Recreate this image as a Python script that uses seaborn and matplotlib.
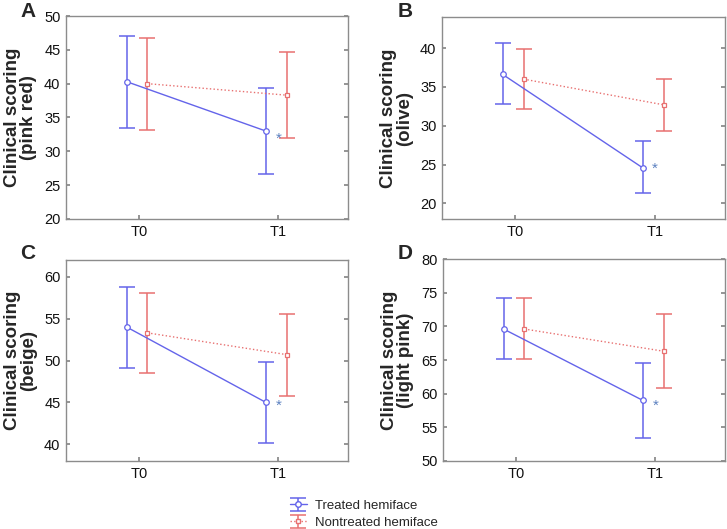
import matplotlib
matplotlib.use("Agg")
import matplotlib.pyplot as plt
from matplotlib.lines import Line2D
from matplotlib.legend_handler import HandlerTuple
import seaborn as sns
import pandas as pd
import numpy as np

# panel letters / y labels
panels = ["A", "B", "C", "D"]
ylabels = ["Clinical scoring\n(pink red)", "Clinical scoring\n(olive)",
           "Clinical scoring\n(beige)", "Clinical scoring\n(light pink)"]
ylims = [(20, 50), (18, 44), (38, 62), (50, 80)]
yticks = [range(20, 51, 5), range(20, 41, 5), range(40, 61, 5), range(50, 81, 5)]
times = ["T0", "T1"]

# means and error bar limits: [T0, T1]
treated_mean = [[40.3, 33.0], [36.6, 24.6], [54.0, 45.0], [69.6, 59.0]]
treated_lo = [[33.5, 26.6], [32.8, 21.4], [49.1, 40.2], [65.1, 53.4]]
treated_hi = [[47.1, 39.4], [40.6, 28.0], [58.8, 49.8], [74.2, 64.6]]
nontreated_mean = [[40.0, 38.3], [36.0, 32.7], [53.3, 50.7], [69.6, 66.3]]
nontreated_lo = [[33.2, 32.0], [32.1, 29.3], [48.5, 45.8], [65.1, 60.8]]
nontreated_hi = [[46.8, 44.7], [39.9, 36.0], [58.1, 55.5], [74.2, 71.9]]
star_y = [31.8, 24.5, 44.6, 58.2]

blue = "#6464ea"
red = "#e87070"
star_col = "#5b80c0"

sns.set_theme(style="white")
plt.rcParams["font.family"] = ["Liberation Sans", "DejaVu Sans"]

fig = plt.figure(figsize=(7.27, 5.29), dpi=100)
W, H = 727, 529
boxes = [(66, 16, 348, 219), (442, 17, 725, 219), (66, 260, 348, 461), (443, 259, 725, 461)]
letter_xy = [(20, 2), (398, 2), (20, 244), (398, 244)]

for i in range(4):
    l, t, r, b = boxes[i]
    ax = fig.add_axes([l / W, 1 - b / H, (r - l) / W, (b - t) / H])
    df = pd.DataFrame({
        "x": [0, 1, 0, 1],
        "mean": treated_mean[i] + nontreated_mean[i],
        "lo": treated_lo[i] + nontreated_lo[i],
        "hi": treated_hi[i] + nontreated_hi[i],
        "group": ["Treated hemiface"] * 2 + ["Nontreated hemiface"] * 2,
    })
    df["xpos"] = df["x"] + np.where(df["group"] == "Treated hemiface", -0.09, 0.06)

    tr = df[df.group == "Treated hemiface"]
    nt = df[df.group == "Nontreated hemiface"]
    eb_t = ax.errorbar(tr.xpos, tr["mean"], yerr=[tr["mean"] - tr.lo, tr.hi - tr["mean"]],
                       fmt="none", ecolor=blue, elinewidth=1.1, capsize=6, capthick=1.1)
    eb_n = ax.errorbar(nt.xpos, nt["mean"], yerr=[nt["mean"] - nt.lo, nt.hi - nt["mean"]],
                       fmt="none", ecolor=red, elinewidth=1.1, capsize=6, capthick=1.1)
    sns.lineplot(data=tr, x="xpos", y="mean", ax=ax, color=blue, lw=1.0,
                 marker="o", markersize=4, markerfacecolor="white",
                 markeredgecolor=blue, markeredgewidth=0.9)
    sns.lineplot(data=nt, x="xpos", y="mean", ax=ax, color=red, lw=1.0, linestyle=":",
                 marker="s", markersize=3.5, markerfacecolor="white",
                 markeredgecolor=red, markeredgewidth=0.9)
    ax.text(1.0, star_y[i], "*", color=star_col, fontsize=11, ha="center", va="center")

    ax.set_xlim(-0.525, 1.5)
    ax.set_ylim(*ylims[i])
    ax.set_xticks([0, 1])
    ax.set_xticklabels(times)
    ax.set_yticks(list(yticks[i]))
    ax.set_xlabel("")
    ax.set_ylabel(ylabels[i], fontsize=13.5, fontweight="bold", linespacing=0.9, labelpad=5)
    ax.tick_params(axis="both", labelsize=10.5, direction="in", length=3, color="#888888",
                   left=True, right=True, bottom=True, labelcolor="#111111", pad=4)
    for s in ax.spines.values():
        s.set_color("#8c8c8c")
        s.set_linewidth(1.0)
    fig.text(letter_xy[i][0] / W, 1 - letter_xy[i][1] / H, panels[i],
             fontsize=15, fontweight="bold", va="top", ha="left")

h_t = (eb_t, Line2D([], [], color=blue, lw=1.0, marker="o", markersize=4,
                    markerfacecolor="white", markeredgecolor=blue))
h_n = (eb_n, Line2D([], [], color=red, lw=1.0, ls=":", marker="s", markersize=3.5,
                    markerfacecolor="white", markeredgecolor=red))
fig.legend([h_t, h_n], ["Treated hemiface", "Nontreated hemiface"],
           handler_map={tuple: HandlerTuple(ndivide=1)},
           loc="upper left", bbox_to_anchor=(278 / W, 1 - 488 / H), frameon=False,
           fontsize=9.5, handlelength=1.3, handletextpad=0.6, labelspacing=0.35)

fig.savefig("out.png", dpi=100)
